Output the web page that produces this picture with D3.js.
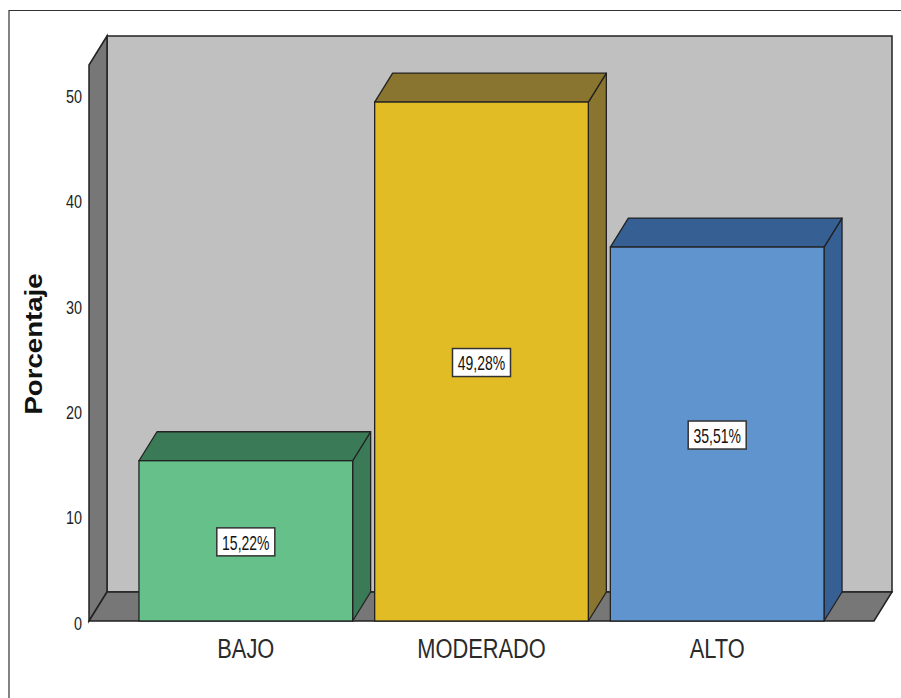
<!DOCTYPE html>
<html><head><meta charset="utf-8">
<script src="https://cdn.jsdelivr.net/npm/d3@7"></script>
<style>body{margin:0;background:#fff;} svg{display:block;}</style>
</head><body>
<script>
const categories = ["BAJO", "MODERADO", "ALTO"];
const values = [15.22, 49.28, 35.51];
const valueLabels = ["15,22%", "49,28%", "35,51%"];
const frontColors = ["#66C08A", "#E1BC25", "#5F94CF"];
const topColors = ["#3A7A56", "#8A7530", "#365F94"];
const yTicks = [0, 10, 20, 30, 40, 50];
const yTitle = "Porcentaje";

const W = 901, H = 698;
const DX = 18, DY = -29;
const svg = d3.select("body").append("svg").attr("width", W).attr("height", H);

// frame (top and left edges)
svg.append("path").attr("d", "M9,698 L9,10.5 L901,10.5").attr("fill", "none").attr("stroke", "#333").attr("stroke-width", 1.2);

const y = d3.scaleLinear().domain([0, 52.8]).range([621, 65]);
const x = d3.scaleBand().domain(categories).range([89, 874]).paddingInner(0.0934).paddingOuter(0.212);

const x0 = 89, x1 = 874, yb = y(0), yt = y(52.8);
const line = "#222";

// back wall
svg.append("polygon").attr("points", [[x0+DX, yt+DY],[x1+DX, yt+DY],[x1+DX, yb+DY],[x0+DX, yb+DY]].join(" "))
  .attr("fill", "#C0C0C0").attr("stroke", line).attr("stroke-width", 1.5);
// side wall
svg.append("polygon").attr("points", [[x0, yt],[x0+DX, yt+DY],[x0+DX, yb+DY],[x0, yb]].join(" "))
  .attr("fill", "#777777").attr("stroke", line).attr("stroke-width", 1.5);
// floor
svg.append("polygon").attr("points", [[x0, yb],[x0+DX, yb+DY],[x1+DX, yb+DY],[x1, yb]].join(" "))
  .attr("fill", "#777777").attr("stroke", line).attr("stroke-width", 1.5);

// y tick labels
svg.append("g").selectAll("text").data(yTicks).join("text")
  .attr("transform", d => `translate(82,${y(d)+2}) scale(0.8,1)`)
  .attr("text-anchor", "end").attr("dominant-baseline", "central")
  .attr("font-family", "Liberation Sans, Arial, sans-serif").attr("font-size", 18)
  .attr("fill", "#222").text(d => d);

// y title
svg.append("text")
  .attr("transform", `translate(42,344) rotate(-90) scale(1.2,1)`)
  .attr("text-anchor", "middle")
  .attr("font-family", "Liberation Sans, Arial, sans-serif").attr("font-size", 23).attr("font-weight", "bold")
  .attr("fill", "#111").text(yTitle);

// bars
const bars = svg.append("g").selectAll("g").data(categories).join("g");
bars.each(function(c, i) {
  const g = d3.select(this);
  const bx = x(c), bw = x.bandwidth(), top = y(values[i]);
  g.append("polygon").attr("points", [[bx+bw, top],[bx+bw+DX, top+DY],[bx+bw+DX, yb+DY],[bx+bw, yb]].join(" "))
    .attr("fill", topColors[i]).attr("stroke", line).attr("stroke-width", 1.3).attr("stroke-linejoin", "round");
  g.append("polygon").attr("points", [[bx, top],[bx+DX, top+DY],[bx+bw+DX, top+DY],[bx+bw, top]].join(" "))
    .attr("fill", topColors[i]).attr("stroke", line).attr("stroke-width", 1.3).attr("stroke-linejoin", "round");
  g.append("rect").attr("x", bx).attr("y", top).attr("width", bw).attr("height", yb - top)
    .attr("fill", frontColors[i]).attr("stroke", line).attr("stroke-width", 1.3);
  // value label
  const cx = bx + bw/2, cy = y(values[i]/2) + 1;
  g.append("rect").attr("x", cx - 29).attr("y", cy - 14).attr("width", 58).attr("height", 28)
    .attr("fill", "#fff").attr("stroke", "#333").attr("stroke-width", 1.5);
  g.append("text").attr("transform", `translate(${cx},${cy+1}) scale(0.7,1)`)
    .attr("text-anchor", "middle").attr("dominant-baseline", "central")
    .attr("font-family", "Liberation Sans, Arial, sans-serif").attr("font-size", 20)
    .attr("fill", "#111").text(valueLabels[i]);
  // category label
  g.append("text").attr("transform", `translate(${cx},${648}) scale(0.78,1)`)
    .attr("text-anchor", "middle").attr("dominant-baseline", "central")
    .attr("font-family", "Liberation Sans, Arial, sans-serif").attr("font-size", 28)
    .attr("fill", "#2a2a2a").text(c);
});
</script>
</body></html>
